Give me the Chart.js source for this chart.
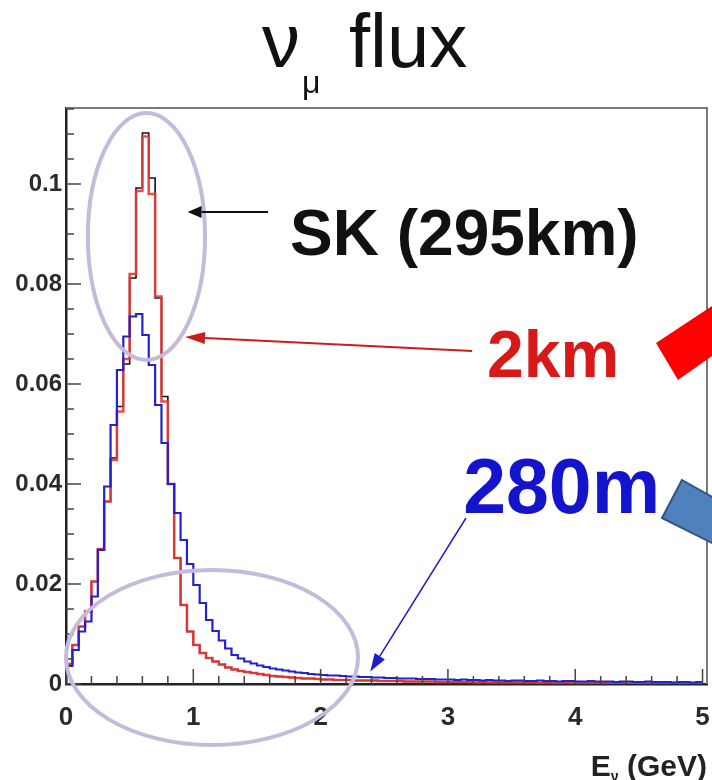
<!DOCTYPE html>
<html>
<head>
<meta charset="utf-8">
<title>νμ flux</title>
<script src="https://cdn.jsdelivr.net/npm/chart.js@4.4.1/dist/chart.umd.min.js"></script>
<style>
  html, body { margin: 0; padding: 0; background: #fff; }
  canvas { display: block; }
</style>
</head>
<body>
<canvas id="flux" width="712" height="780"></canvas>
<script>
// energy binning (GeV)
const binWidth = 0.05;

// SK (295 km) flux per bin
const skFlux = [
  0.0040, 0.0078, 0.0115, 0.0145, 0.0205, 0.0270, 0.0365, 0.0452, 0.0555, 0.0640,
  0.0812, 0.0992, 0.1102, 0.1012, 0.0772, 0.0575, 0.0400, 0.0252, 0.0158, 0.0105,
  0.0078, 0.0062, 0.0052, 0.0045, 0.0039, 0.0033, 0.0029, 0.0026, 0.0024, 0.0022,
  0.0020, 0.0018, 0.0016, 0.0015, 0.0014, 0.0013, 0.0012, 0.0011, 0.0011, 0.0010,
  0.0009, 0.0009, 0.0008, 0.0008, 0.0008, 0.0007, 0.0007, 0.0007, 0.0007, 0.0006,
  0.0006, 0.0006, 0.0006, 0.0005, 0.0005, 0.0005, 0.0005, 0.0005, 0.0004, 0.0004,
  0.0004, 0.0004, 0.0004, 0.0004, 0.0003, 0.0004, 0.0003, 0.0003, 0.0003, 0.0003,
  0.0003, 0.0003, 0.0003, 0.0003, 0.0002, 0.0003, 0.0002, 0.0002, 0.0003, 0.0002,
  0.0002, 0.0002, 0.0002, 0.0002, 0.0002, 0.0002, 0.0002, 0.0002, 0.0001, 0.0002,
  0.0002, 0.0001, 0.0002, 0.0001, 0.0001, 0.0002, 0.0001, 0.0001, 0.0001, 0.0001
];

// 2 km flux per bin
const farFlux = [
  0.0040, 0.0078, 0.0115, 0.0145, 0.0205, 0.0270, 0.0365, 0.0448, 0.0545, 0.0650,
  0.0820, 0.0986, 0.1095, 0.0980, 0.0775, 0.0565, 0.0400, 0.0252, 0.0158, 0.0105,
  0.0078, 0.0062, 0.0052, 0.0045, 0.0039, 0.0033, 0.0029, 0.0026, 0.0024, 0.0022,
  0.0020, 0.0018, 0.0016, 0.0015, 0.0014, 0.0013, 0.0012, 0.0011, 0.0011, 0.0010,
  0.0009, 0.0009, 0.0008, 0.0008, 0.0008, 0.0007, 0.0007, 0.0007, 0.0007, 0.0006,
  0.0006, 0.0006, 0.0006, 0.0005, 0.0005, 0.0005, 0.0005, 0.0005, 0.0004, 0.0004,
  0.0004, 0.0004, 0.0004, 0.0004, 0.0003, 0.0004, 0.0003, 0.0003, 0.0003, 0.0003,
  0.0003, 0.0003, 0.0003, 0.0003, 0.0002, 0.0003, 0.0002, 0.0002, 0.0003, 0.0002,
  0.0002, 0.0002, 0.0002, 0.0002, 0.0002, 0.0002, 0.0002, 0.0002, 0.0001, 0.0002,
  0.0002, 0.0001, 0.0002, 0.0001, 0.0001, 0.0002, 0.0001, 0.0001, 0.0001, 0.0001
];

// 280 m flux per bin
const nearFlux = [
  0.0036, 0.0068, 0.0105, 0.0125, 0.0175, 0.0268, 0.0395, 0.0518, 0.0628, 0.0695,
  0.0735, 0.0740, 0.0698, 0.0638, 0.0558, 0.0482, 0.0400, 0.0342, 0.0288, 0.0240,
  0.0198, 0.0162, 0.0128, 0.0106, 0.0087, 0.0071, 0.0058, 0.0051, 0.0045, 0.0041,
  0.0037, 0.0034, 0.0031, 0.0029, 0.0027, 0.0025, 0.0023, 0.0022, 0.0020, 0.0019,
  0.0018, 0.0017, 0.0017, 0.0016, 0.0015, 0.0015, 0.0014, 0.0014, 0.0013, 0.0013,
  0.0012, 0.0012, 0.0011, 0.0011, 0.0011, 0.0010, 0.0010, 0.0010, 0.0009, 0.0009,
  0.0009, 0.0008, 0.0009, 0.0008, 0.0008, 0.0007, 0.0008, 0.0007, 0.0007, 0.0006,
  0.0007, 0.0007, 0.0006, 0.0006, 0.0007, 0.0006, 0.0006, 0.0005, 0.0006, 0.0006,
  0.0005, 0.0005, 0.0006, 0.0005, 0.0005, 0.0005, 0.0004, 0.0005, 0.0005, 0.0004,
  0.0004, 0.0005, 0.0004, 0.0004, 0.0004, 0.0003, 0.0004, 0.0004, 0.0003, 0.0004
];

const xTicks = [0, 1, 2, 3, 4, 5];
const yTicks = [0, 0.02, 0.04, 0.06, 0.08, 0.1];

// turn bin contents into step points starting at the left edge
function histPoints(vals) {
  const pts = [{ x: 0, y: 0 }];
  vals.forEach((v, i) => pts.push({ x: i * binWidth, y: v }));
  pts.push({ x: vals.length * binWidth, y: vals[vals.length - 1] });
  return pts;
}

const FONT = '"Liberation Sans", Arial, sans-serif';
Chart.defaults.font.family = FONT;

function arrow(ctx, x1, y1, x2, y2, color, lw, len, half) {
  const ang = Math.atan2(y2 - y1, x2 - x1);
  const bx = x2 - len * Math.cos(ang), by = y2 - len * Math.sin(ang);
  ctx.strokeStyle = color;
  ctx.fillStyle = color;
  ctx.lineWidth = lw;
  ctx.beginPath();
  ctx.moveTo(x1, y1);
  ctx.lineTo(bx, by);
  ctx.stroke();
  ctx.beginPath();
  ctx.moveTo(x2, y2);
  ctx.lineTo(bx + half * Math.sin(ang), by - half * Math.cos(ang));
  ctx.lineTo(bx - half * Math.sin(ang), by + half * Math.cos(ang));
  ctx.closePath();
  ctx.fill();
}

const overlay = {
  id: 'overlay',
  afterDraw(chart) {
    const { ctx, chartArea: a, scales: { x, y } } = chart;
    const px = v => x.getPixelForValue(v);
    const py = v => y.getPixelForValue(v);
    ctx.save();

    // top and right frame
    ctx.strokeStyle = '#7a7a7a';
    ctx.lineWidth = 2;
    ctx.beginPath();
    ctx.moveTo(a.left, a.top);
    ctx.lineTo(a.right, a.top);
    ctx.lineTo(a.right, a.bottom);
    ctx.stroke();

    // inward tick marks
    ctx.strokeStyle = '#444';
    ctx.lineWidth = 1.5;
    ctx.beginPath();
    for (let i = 0; i <= 25; i++) {
      const xp = px(i * 0.2);
      const len = i % 5 === 0 ? 15 : 8;
      ctx.moveTo(xp, a.bottom);
      ctx.lineTo(xp, a.bottom - len);
    }
    for (let i = 0; i <= 23; i++) {
      const yp = py(i * 0.005);
      const len = i % 4 === 0 ? 15 : 8;
      ctx.moveTo(a.left, yp);
      ctx.lineTo(a.left + len, yp);
    }
    ctx.stroke();

    // title
    ctx.fillStyle = '#111';
    ctx.textBaseline = 'alphabetic';
    ctx.textAlign = 'left';
    ctx.font = '76px ' + FONT;
    ctx.fillText('ν', 262, 67);
    ctx.fillText('flux', 349, 67);
    ctx.font = '32px ' + FONT;
    ctx.fillText('μ', 302, 93);

    // axis title
    ctx.fillStyle = '#222';
    ctx.font = 'bold 30px ' + FONT;
    ctx.textAlign = 'right';
    ctx.fillText('(GeV)', 707, 776);
    const gw = ctx.measureText(' (GeV)').width;
    ctx.font = 'bold 14px ' + FONT;
    const nw = ctx.measureText('ν').width;
    ctx.fillText('ν', 707 - gw, 781);
    ctx.font = 'bold 30px ' + FONT;
    ctx.fillText('E', 707 - gw - nw, 776);

    // highlighted regions
    ctx.strokeStyle = 'rgb(196,186,220)';
    ctx.lineWidth = 4;
    ctx.beginPath();
    ctx.ellipse(px(0.632), py(0.0895), px(0.632 + 0.46) - px(0.632), py(0) - py(0.0247), 0, 0, Math.PI * 2);
    ctx.stroke();
    ctx.beginPath();
    ctx.ellipse(px(1.147), py(0.0053), px(1.147 + 1.147) - px(1.147), py(0) - py(0.0175), 0, 0, Math.PI * 2);
    ctx.stroke();

    // labels with pointers
    arrow(ctx, px(1.587), py(0.0944), px(0.955), py(0.0944), '#111', 2, 14, 6);
    arrow(ctx, px(3.19), py(0.0666), px(0.935), py(0.0694), 'rgb(200,30,30)', 2, 20, 6);
    arrow(ctx, px(3.142), py(0.0332), px(2.39), py(0.0025), 'rgb(30,30,200)', 1.5, 18, 6);

    ctx.textAlign = 'left';
    ctx.font = 'bold 64px ' + FONT;
    ctx.fillStyle = '#111';
    ctx.fillText('SK (295km)', px(1.76), py(0.0858));
    ctx.fillStyle = 'rgb(215,25,25)';
    ctx.font = 'bold 66px ' + FONT;
    ctx.fillText('2km', px(3.307), py(0.0614));
    ctx.fillStyle = 'rgb(20,20,205)';
    ctx.font = 'bold 77px ' + FONT;
    ctx.fillText('280m', px(3.12), py(0.0342));

    // arrow shafts entering from the right edge
    ctx.fillStyle = '#ff0000';
    ctx.beginPath();
    ctx.moveTo(656, 343);
    ctx.lineTo(712, 306);
    ctx.lineTo(712, 356);
    ctx.lineTo(678, 380);
    ctx.closePath();
    ctx.fill();

    ctx.fillStyle = 'rgb(79,129,189)';
    ctx.strokeStyle = 'rgb(50,85,130)';
    ctx.lineWidth = 2;
    ctx.beginPath();
    ctx.moveTo(682, 480);
    ctx.lineTo(714, 498);
    ctx.lineTo(714, 544);
    ctx.lineTo(662, 518);
    ctx.closePath();
    ctx.fill();
    ctx.stroke();

    ctx.restore();
  }
};

const lineOpts = { stepped: 'before', pointRadius: 0, fill: false, tension: 0 };

new Chart(
  document.getElementById('flux'),
  {
    type: 'line',
    data: {
      datasets: [
        { label: '280m', data: histPoints(nearFlux), borderColor: 'rgb(35,35,205)', borderWidth: 2.2, ...lineOpts },
        { label: '2km', data: histPoints(farFlux), borderColor: 'rgba(228,60,60,0.9)', borderWidth: 2.6, ...lineOpts },
        { label: 'SK (295km)', data: histPoints(skFlux), borderColor: '#111', borderWidth: 1.6, ...lineOpts }
      ]
    },
    options: {
      responsive: false,
      animation: false,
      layout: { padding: { top: 108, right: 5, left: 0, bottom: 0 } },
      plugins: { legend: { display: false }, tooltip: { enabled: false }, title: { display: false } },
      scales: {
        x: {
          type: 'linear',
          min: 0,
          max: 5.035,
          afterBuildTicks: s => { s.ticks = xTicks.map(v => ({ value: v })); },
          afterFit: s => { s.height = 96; s.paddingLeft = 0; s.paddingRight = 0; },
          grid: { display: false, drawTicks: false },
          border: { display: true, color: '#222', width: 2.5 },
          ticks: { color: '#2a2a2a', font: { size: 26, weight: 'bold' }, padding: 18, maxRotation: 0, autoSkip: false, callback: v => String(v) }
        },
        y: {
          type: 'linear',
          min: 0,
          max: 0.1152,
          afterBuildTicks: s => { s.ticks = yTicks.map(v => ({ value: v })); },
          afterFit: s => { s.width = 66; s.paddingTop = 0; s.paddingBottom = 0; },
          grid: { display: false, drawTicks: false },
          border: { display: true, color: '#222', width: 2.5 },
          ticks: { color: '#2a2a2a', font: { size: 24, weight: 'bold' }, padding: 4, autoSkip: false, callback: v => String(v) }
        }
      }
    },
    plugins: [overlay]
  }
);
</script>
</body>
</html>
